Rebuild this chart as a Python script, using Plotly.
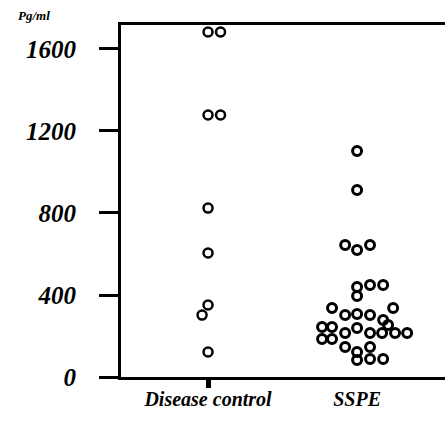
import plotly.graph_objects as go

# ---- data ----
categories = ["Disease control", "SSPE"]
y_tick_values = [0, 400, 800, 1200, 1600]
y_tick_labels = ["0", "400", "800", "1200", "1600"]

dc_values = [1683, 1683, 1278, 1278, 824, 605, 351, 302, 122]
dc_jitter = [0, 0.084, 0, 0.084, 0, 0, 0, -0.04, 0]

sspe_values = [1102, 912, 644, 620, 644, 449, 449, 439, 395, 337, 337,
               302, 307, 302, 278, 244, 244, 239, 254,
               215, 215, 215, 215, 215, 185, 185, 146, 146, 122, 83, 88, 88]
sspe_jitter = [0, 0, -0.08, 0, 0.087, 0.087, 0.175, 0, 0, -0.168, 0.242,
               -0.08, 0, 0.087, 0.175, -0.235, -0.168, 0, 0.208,
               -0.08, 0.087, 0.168, 0.255, 0.336, -0.235, -0.168, -0.08, 0.087, 0, 0, 0.087, 0.175]

FONT = "Liberation Serif"

fig = go.Figure()
fig.add_trace(go.Scatter(
    x=[0 + j for j in dc_jitter], y=dc_values, mode="markers",
    marker=dict(symbol="circle-open", size=9, color="black", line=dict(width=2.5)),
    showlegend=False, hoverinfo="y"))
fig.add_trace(go.Scatter(
    x=[1 + j for j in sspe_jitter], y=sspe_values, mode="markers",
    marker=dict(symbol="circle-open", size=9, color="black", line=dict(width=3)),
    showlegend=False, hoverinfo="y"))
# empty trace for the tick-only axis
fig.add_trace(go.Scatter(x=[None], y=[None], xaxis="x2", showlegend=False))

fig.update_layout(
    width=445, height=422,
    margin=dict(l=121, r=0, t=25, b=45),
    paper_bgcolor="white", plot_bgcolor="white",
    font=dict(family=FONT, color="black"),
    xaxis=dict(
        range=[-0.584, 1.59], tickvals=[0, 1], ticktext=categories,
        ticks="", showgrid=False, zeroline=False,
        showline=True, linecolor="black", linewidth=2.5, mirror=True,
        tickfont=dict(family=FONT, size=20, weight="bold", style="italic"),
        ticklabelstandoff=2,
    ),
    xaxis2=dict(
        range=[-0.584, 1.59], overlaying="x", anchor="y", side="bottom",
        tickvals=[0], showticklabels=False, ticks="outside", ticklen=10,
        tickwidth=5, tickcolor="black", showgrid=False, zeroline=False, showline=False,
    ),
    yaxis=dict(
        range=[0, 1717], tickvals=y_tick_values, ticktext=y_tick_labels,
        ticks="outside", ticklen=19, tickwidth=2.5, tickcolor="black",
        showgrid=False, zeroline=False,
        showline=True, linecolor="black", linewidth=3,
        tickfont=dict(family=FONT, size=25, weight="bold", style="italic"),
        ticklabelstandoff=18,
    ),
    annotations=[dict(
        text="Pg/ml", xref="paper", yref="paper", x=-0.269, y=1.026,
        xanchor="center", yanchor="middle", showarrow=False,
        font=dict(family=FONT, size=13, weight="bold", style="italic"))],
)

fig.write_html("out.html")
